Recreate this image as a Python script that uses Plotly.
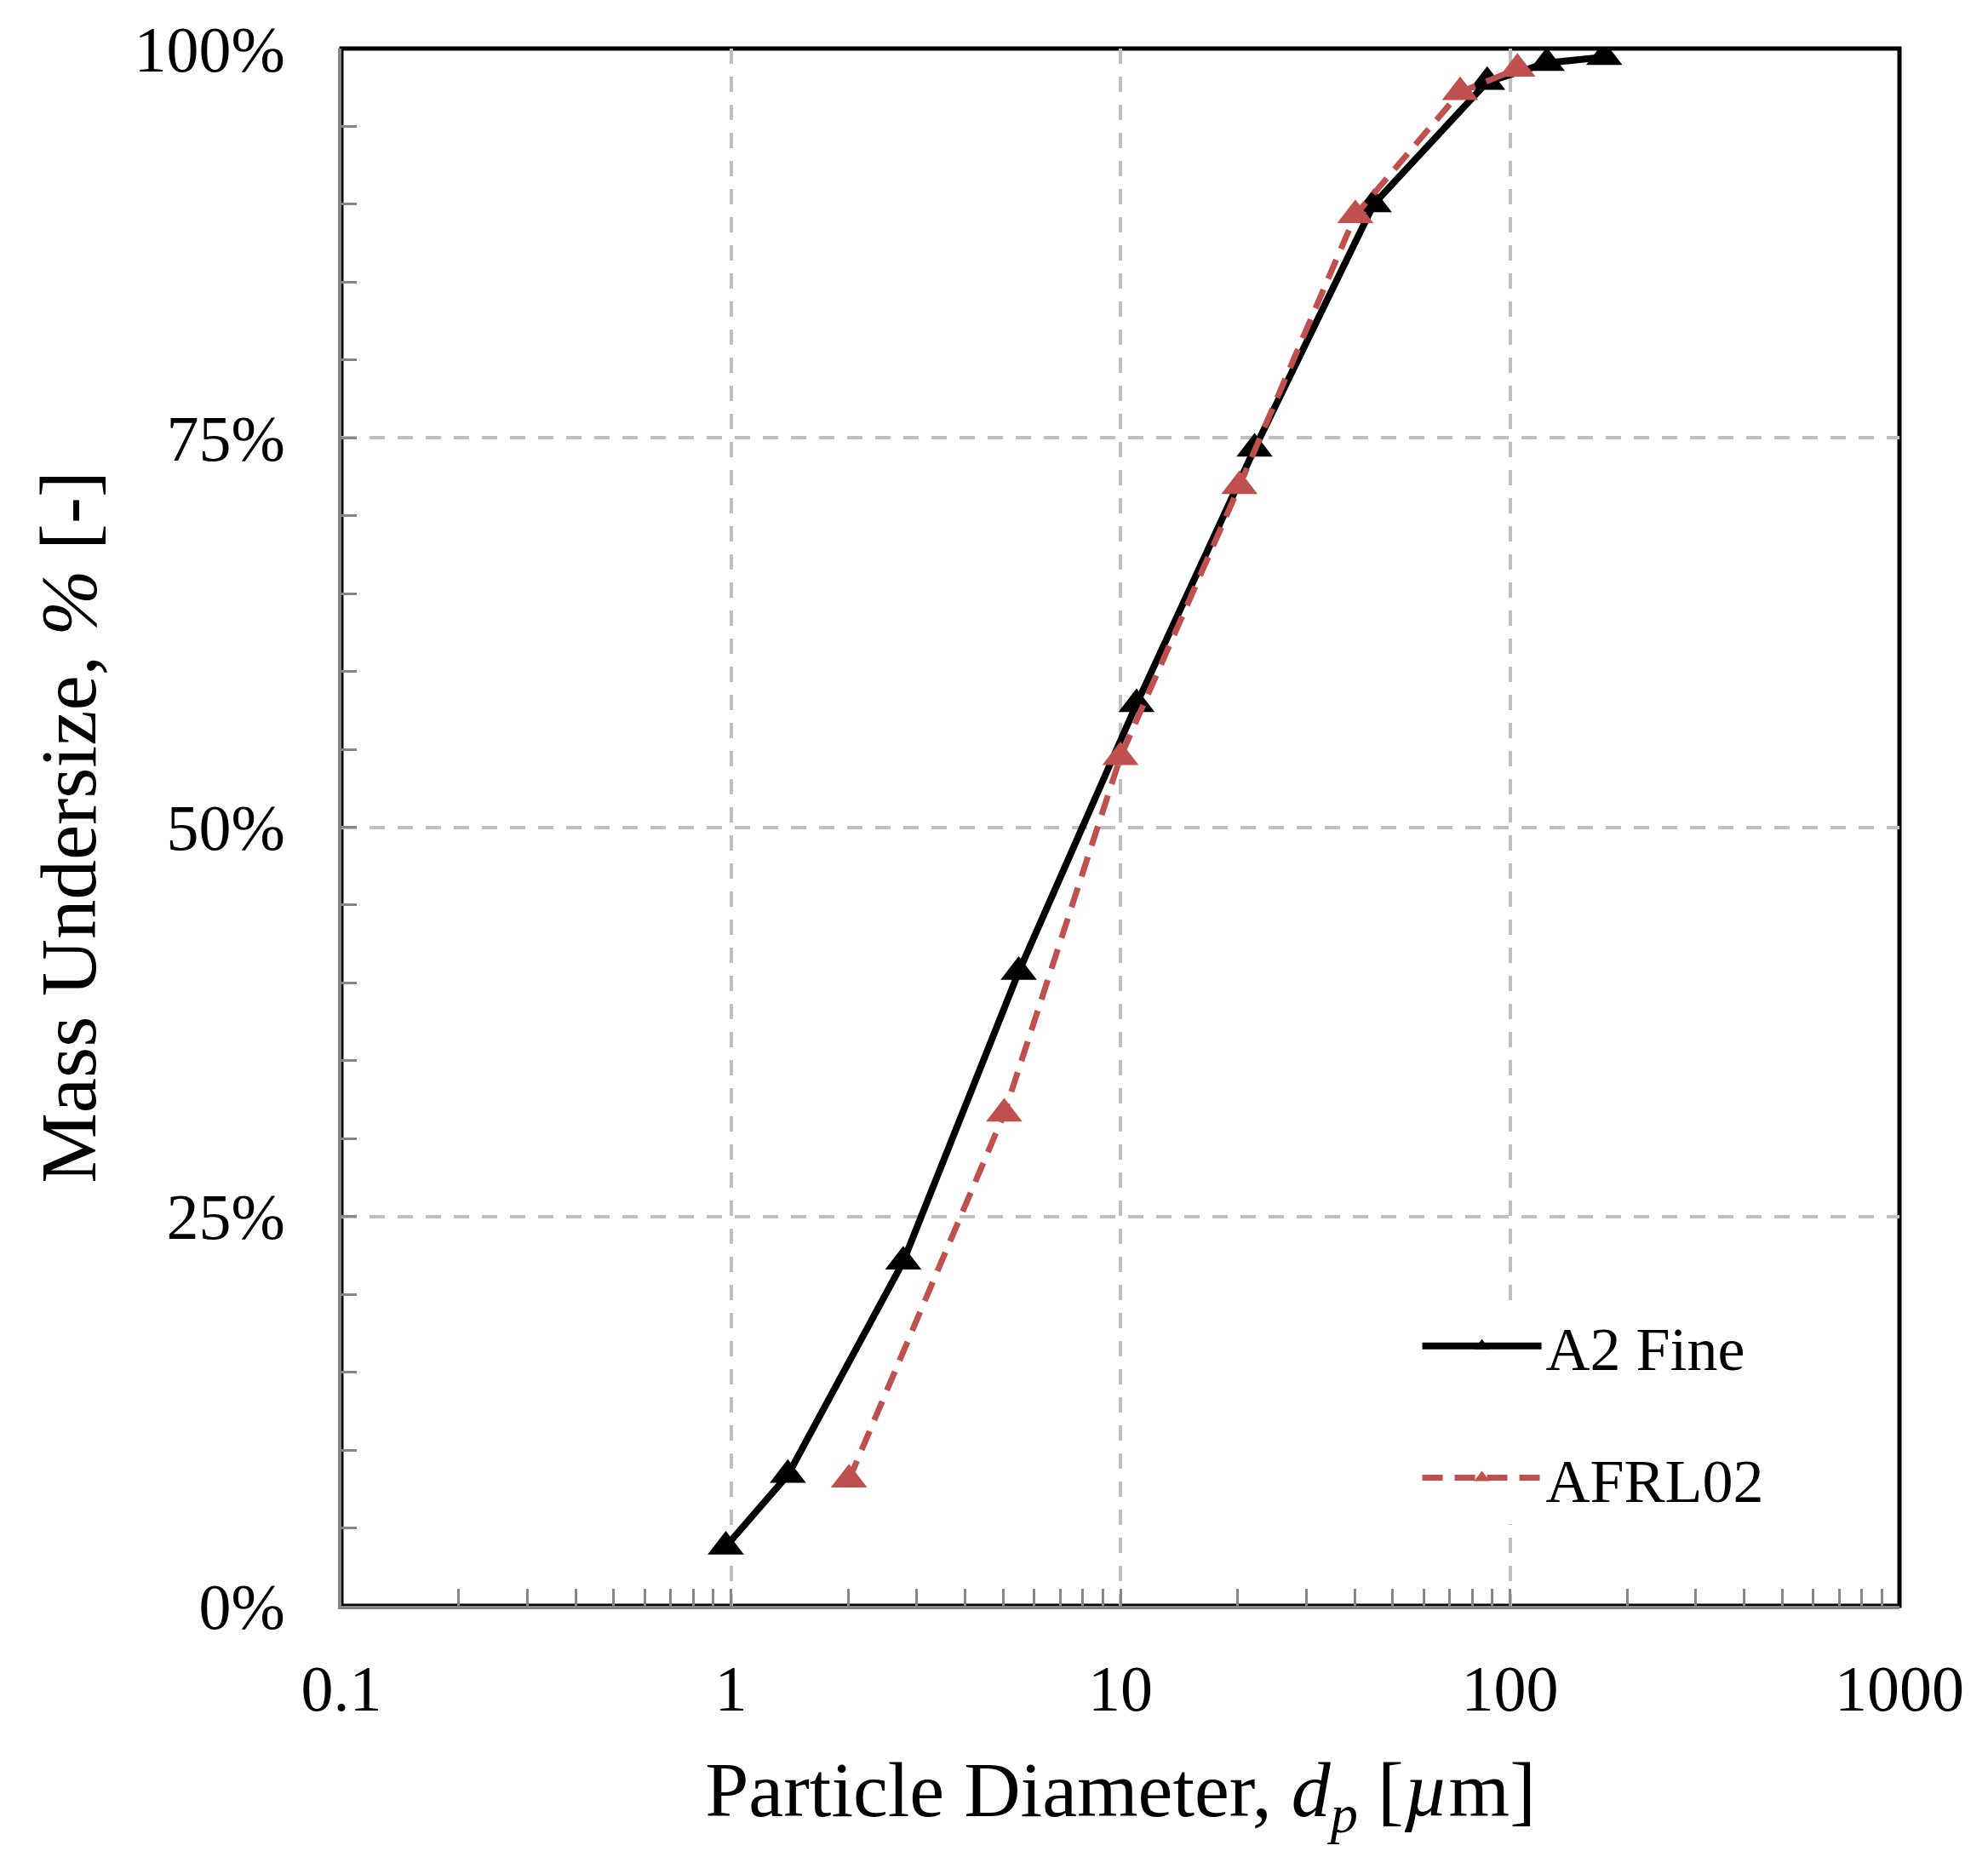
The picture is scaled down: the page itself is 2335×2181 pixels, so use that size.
import plotly.graph_objects as go

# ---- data ----
a2_fine_d = [0.97, 1.40, 2.77, 5.48, 11.0, 22.1, 44.7, 87.4, 124.3, 174.6]
a2_fine_pct = [3.8, 8.4, 22.1, 40.7, 57.9, 74.3, 90.0, 97.85, 99.07, 99.45]

afrl02_d = [2.01, 5.03, 10.0, 20.2, 40.1, 74.5, 104.5]
afrl02_pct = [8.1, 31.6, 54.5, 71.9, 89.3, 97.2, 98.7]

x_tick_vals = [0.1, 1, 10, 100, 1000]
x_tick_text = ["0.1", "1", "10", "100", "1000"]
y_tick_vals = [0, 25, 50, 75, 100]
y_tick_text = ["0%", "25%", "50%", "75%", "100%"]

FONT = "Liberation Serif"
RED = "#C0504D"
GRID = "#BFBFBF"
AXIS_GRAY = "#868686"

x_minor = [m * 10 ** e for e in range(-1, 3) for m in range(2, 10)]

fig = go.Figure()
fig.add_trace(go.Scatter(
    x=a2_fine_d, y=a2_fine_pct, name="A2 Fine", mode="lines+markers",
    line=dict(color="black", width=8),
    marker=dict(symbol="triangle-up", size=37, color="black"),
    legendgroup="a",
))
fig.add_trace(go.Scatter(
    x=afrl02_d, y=afrl02_pct, name="AFRL02", mode="lines+markers",
    line=dict(color=RED, width=7, dash="24px,14px"),
    marker=dict(symbol="triangle-up", size=37, color=RED),
    legendgroup="b",
))

fig.update_layout(
    width=2335, height=2181,
    margin=dict(l=401, r=104, t=57, b=295, autoexpand=False),
    paper_bgcolor="white", plot_bgcolor="white",
    font=dict(family=FONT, color="black", size=76),
    showlegend=True,
    legend=dict(
        x=0.691, y=0.196, xanchor="left", yanchor="top",
        bgcolor="white", borderwidth=0,
        font=dict(family=FONT, size=72, color="black"),
        tracegroupgap=58,
        itemwidth=140,
    ),
    shapes=[dict(type="rect", xref="paper", yref="paper", x0=0, y0=0, x1=1, y1=1,
                 line=dict(color="black", width=5), layer="below")],
)

fig.update_xaxes(
    type="log", range=[-1, 3], automargin=False,
    tickvals=x_tick_vals, ticktext=x_tick_text,
    ticks="inside", ticklen=20, tickwidth=3, tickcolor=AXIS_GRAY,
    ticklabelstandoff=28,
    showline=True, linecolor=AXIS_GRAY, linewidth=4,
    showgrid=True, gridcolor=GRID, gridwidth=4, griddash="18px,15px",
    zeroline=False,
    minor=dict(tickvals=x_minor, ticks="inside", ticklen=20, tickwidth=3,
               tickcolor=AXIS_GRAY, showgrid=False),
    tickfont=dict(family=FONT, size=76, color="black"),
    title=dict(text="Particle Diameter, <i>d<sub>p</sub></i> [<i>µ</i>m]",
               font=dict(family=FONT, size=92, color="black"), standoff=45),
)
fig.update_yaxes(
    range=[0, 100], automargin=False,
    tickvals=y_tick_vals, ticktext=y_tick_text,
    ticks="inside", ticklen=18, tickwidth=3, tickcolor=AXIS_GRAY,
    ticklabelstandoff=47,
    showline=True, linecolor=AXIS_GRAY, linewidth=4,
    showgrid=True, gridcolor=GRID, gridwidth=4, griddash="18px,15px",
    zeroline=False,
    minor=dict(dtick=5, ticks="inside", ticklen=18, tickwidth=3,
               tickcolor=AXIS_GRAY, showgrid=False),
    tickfont=dict(family=FONT, size=76, color="black"),
    title=dict(text="Mass Undersize, <i>%</i> [-]",
               font=dict(family=FONT, size=93, color="black"), standoff=15),
)

fig.write_html("out.html", config={"displayModeBar": False},
               post_script="document.body.style.margin='0px';")
